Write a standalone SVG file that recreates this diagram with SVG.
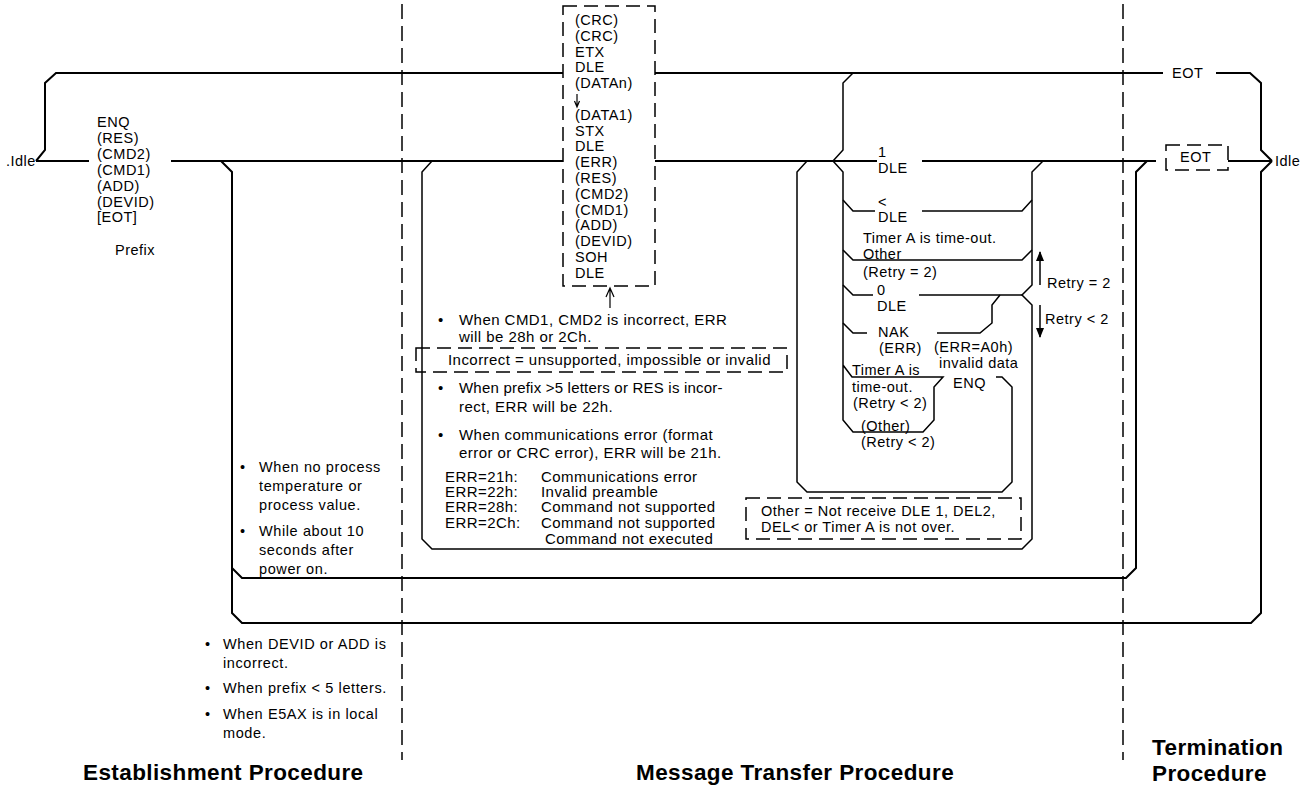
<svg xmlns="http://www.w3.org/2000/svg" width="1310" height="785" viewBox="0 0 1310 785">
<style>
text{font-family:"Liberation Sans",Arial,Helvetica,sans-serif;fill:#000}
.t{font-size:14.5px;letter-spacing:0.5px}
.n{font-size:15px;letter-spacing:0.45px}
.s{font-size:14.5px;letter-spacing:0.6px}
.h{font-size:22.5px;font-weight:bold;letter-spacing:0.4px}
.ln{fill:none;stroke:#000;stroke-width:2}
.ln2{fill:none;stroke:#000;stroke-width:1.5}
.dv{fill:none;stroke:#000;stroke-width:1.5;stroke-dasharray:15 7}
.db{fill:none;stroke:#000;stroke-width:1.5;stroke-dasharray:14 7}
.th{fill:none;stroke:#000;stroke-width:1.2}
</style>
<defs>
<marker id="ah" viewBox="0 0 10 10" refX="9" refY="5" markerWidth="10" markerHeight="10" markerUnits="userSpaceOnUse" orient="auto">
<path d="M0,1 L10,5 L0,9 Z" fill="#000"/>
</marker>
</defs>

<g id="dividers">
<line class="dv" x1="402" y1="4" x2="402" y2="760"/>
<line class="dv" x1="1123" y1="4" x2="1123" y2="760"/>
</g>

<g id="connectors">
<path class="ln" d="M36,161 L45,150 L45,83 L56,73 L563,73"/>
<path class="ln" d="M655,73 L1163,73"/>
<path class="ln" d="M1216,73 L1250,73 L1261,83 L1261,150 L1272,161"/>
<path class="ln" d="M36,161 L89,161"/>
<path class="ln" d="M171,161 L563,161"/>
<path class="ln" d="M655,161 L877,161"/>
<path class="ln" d="M922,161 L1156,161"/>
<path class="ln" d="M1228,161 L1272,161"/>
<path class="ln" d="M221,161 L232,172 L232,613 L242,623 L1251,623 L1261,613 L1261,172 L1272,161"/>
<path class="ln" d="M232,568 L242,578 L1126,578 L1136,568 L1136,172 L1147,161"/>
<path class="ln2" d="M432,161 L422,172 L422,539 L432,549 L1022,549 L1032,539 L1032,305 L1022,295 L1032,285 L1032,172 L1043,161"/>
<path class="ln2" d="M807,161 L797,172 L797,482 L807,492 L1002,492 L1012,482 L1012,387 L1002,377 L996,377"/>
<path class="ln2" d="M833,161 L843,150 L843,83 L853,73"/>
<path class="ln2" d="M833,161 L843,172 L843,420 L853,432 L923,432 L934,420 L934,387 L943,377 L852,377 L843,365"/>
<path class="ln2" d="M843,200 L853,211 L875,211"/>
<path class="ln2" d="M922,211 L1022,211 L1032,200"/>
<path class="ln2" d="M843,250 L853,260 L1022,260 L1032,250"/>
<path class="ln2" d="M843,285 L853,295 L873,295"/>
<path class="ln2" d="M919,295 L1022,295"/>
<path class="ln2" d="M1000,295 L992,305 L992,323 L980,333 L937,333"/>
<path class="ln2" d="M843,323 L853,333 L867,333"/>
<line class="ln2" x1="1040" y1="285" x2="1040" y2="252" marker-end="url(#ah)"/>
<line class="ln2" x1="1040" y1="305" x2="1040" y2="337" marker-end="url(#ah)"/>
<path class="th" d="M610,308 L610,289 M606,297 L610,288 L614,297"/>
</g>

<g id="idle-left">
<text class="t" x="6" y="166">.Idle</text>
</g>
<g id="idle-right">
<text class="t" x="1275" y="166">Idle</text>
</g>

<g id="prefix-block">
<text class="t" x="97" y="127">ENQ</text>
<text class="t" x="97" y="143">(RES)</text>
<text class="t" x="97" y="159">(CMD2)</text>
<text class="t" x="97" y="175">(CMD1)</text>
<text class="t" x="97" y="191">(ADD)</text>
<text class="t" x="97" y="207">(DEVID)</text>
<text class="t" x="97" y="222">[EOT]</text>
<text class="t" x="115" y="255">Prefix</text>
</g>

<g id="frame-box">
<rect class="db" x="563" y="6" width="92" height="280"/>
<text class="t" x="575" y="25">(CRC)</text>
<text class="t" x="575" y="41">(CRC)</text>
<text class="t" x="575" y="57">ETX</text>
<text class="t" x="575" y="72">DLE</text>
<text class="t" x="575" y="88">(DATAn)</text>
<path class="th" d="M577,94 L577,106 M574.5,101 L577,107 L579.5,101"/>
<text class="t" x="575" y="120">(DATA1)</text>
<text class="t" x="575" y="136">STX</text>
<text class="t" x="575" y="151">DLE</text>
<text class="t" x="575" y="167">(ERR)</text>
<text class="t" x="575" y="183">(RES)</text>
<text class="t" x="575" y="199">(CMD2)</text>
<text class="t" x="575" y="215">(CMD1)</text>
<text class="t" x="575" y="230">(ADD)</text>
<text class="t" x="575" y="246">(DEVID)</text>
<text class="t" x="575" y="262">SOH</text>
<text class="t" x="575" y="278">DLE</text>
</g>

<g id="eot-top">
<text class="t" x="1172" y="78">EOT</text>
</g>
<g id="eot-box">
<rect class="db" x="1166" y="145" width="62" height="25"/>
<text class="t" x="1180" y="162">EOT</text>
</g>

<g id="receive-labels">
<text class="t" x="878" y="157">1</text>
<text class="t" x="878" y="173">DLE</text>
<text class="t" x="878" y="207">&lt;</text>
<text class="t" x="878" y="222">DLE</text>
<text class="t" x="863" y="243">Timer A is time-out.</text>
<text class="t" x="863" y="259">Other</text>
<text class="t" x="863" y="277">(Retry = 2)</text>
<text class="t" x="877" y="295">0</text>
<text class="t" x="877" y="311">DLE</text>
<text class="t" x="878" y="337">NAK</text>
<text class="t" x="879" y="353">(ERR)</text>
<text class="t" x="934" y="352">(ERR=A0h)</text>
<text class="t" x="939" y="368">invalid data</text>
<text class="t" x="953" y="388">ENQ</text>
<text class="t" x="852" y="375">Timer A is</text>
<text class="t" x="852" y="392">time-out.</text>
<text class="t" x="853" y="408">(Retry &lt; 2)</text>
<text class="t" x="861" y="431">(Other)</text>
<text class="t" x="861" y="447">(Retry &lt; 2)</text>
<text class="t" x="1047" y="288">Retry = 2</text>
<text class="t" x="1045" y="324">Retry &lt; 2</text>
</g>

<g id="other-note">
<rect class="db" x="746" y="498" width="275" height="41"/>
<text class="t" x="761" y="516">Other = Not receive DLE 1, DEL2,</text>
<text class="t" x="761" y="532">DEL&lt; or Timer A is not over.</text>
</g>

<g id="message-notes">
<text class="n" x="438" y="325">•</text>
<text class="n" x="459" y="325">When CMD1, CMD2 is incorrect, ERR</text>
<text class="n" x="459" y="342">will be 28h or 2Ch.</text>
<rect class="db" x="416" y="348" width="371" height="24"/>
<text class="n" x="448" y="365">Incorrect = unsupported, impossible or invalid</text>
<text class="n" x="438" y="393">•</text>
<text class="n" x="459" y="393" textLength="264">When prefix &gt;5 letters or RES is incor-</text>
<text class="n" x="459" y="412">rect, ERR will be 22h.</text>
<text class="n" x="438" y="440">•</text>
<text class="n" x="459" y="440">When communications error (format</text>
<text class="n" x="459" y="458">error or CRC error), ERR will be 21h.</text>
<text class="n" x="445" y="482">ERR=21h:</text>
<text class="n" x="541" y="482">Communications error</text>
<text class="n" x="445" y="497">ERR=22h:</text>
<text class="n" x="541" y="497">Invalid preamble</text>
<text class="n" x="445" y="512">ERR=28h:</text>
<text class="n" x="541" y="512">Command not supported</text>
<text class="n" x="445" y="528">ERR=2Ch:</text>
<text class="n" x="541" y="528">Command not supported</text>
<text class="n" x="545" y="544">Command not executed</text>
</g>

<g id="inner-notes">
<text class="s" x="240" y="472">•</text>
<text class="s" x="259" y="472">When no process</text>
<text class="s" x="259" y="491">temperature or</text>
<text class="s" x="259" y="510">process value.</text>
<text class="s" x="240" y="536">•</text>
<text class="s" x="259" y="536">While about 10</text>
<text class="s" x="259" y="555">seconds after</text>
<text class="s" x="259" y="574">power on.</text>
</g>

<g id="outer-notes">
<text class="s" x="205" y="649">•</text>
<text class="s" x="223" y="649">When DEVID or ADD is</text>
<text class="s" x="223" y="668">incorrect.</text>
<text class="s" x="205" y="693">•</text>
<text class="s" x="223" y="693">When prefix &lt; 5 letters.</text>
<text class="s" x="205" y="719">•</text>
<text class="s" x="223" y="719">When E5AX is in local</text>
<text class="s" x="223" y="738">mode.</text>
</g>

<g id="headings">
<text class="h" x="83" y="780">Establishment Procedure</text>
<text class="h" x="636" y="780">Message Transfer Procedure</text>
<text class="h" x="1152" y="755">Termination</text>
<text class="h" x="1152" y="781">Procedure</text>
</g>
</svg>
